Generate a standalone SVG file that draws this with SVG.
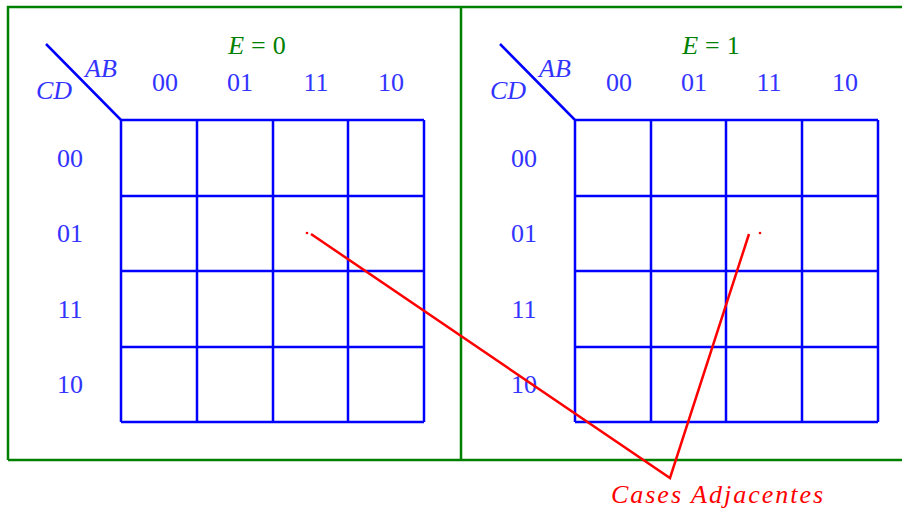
<svg xmlns="http://www.w3.org/2000/svg" width="902" height="512" viewBox="0 0 902 512">
<style>
.frame{fill:none;stroke:#008000;stroke-width:2.5}
.grid{fill:none;stroke:#0000ff;stroke-width:2.5}
.lbl{font-family:"Liberation Serif","DejaVu Serif",serif;font-size:26px;fill:#3333ff;text-anchor:middle}
.it{font-style:italic}
.eq{font-family:"Liberation Serif","DejaVu Serif",serif;font-size:26px;fill:#008000;text-anchor:middle}
.red{fill:none;stroke:#ff0000;stroke-width:2.5}
.note{font-family:"Liberation Serif","DejaVu Serif",serif;font-size:26px;font-style:italic;fill:#ff0000;text-anchor:middle;letter-spacing:2px}
</style>
<rect width="902" height="512" fill="#fff"/>
<g id="frames">
<path class="frame" d="M8,460 V7 H902 M461,7 V460 M8,460 H902"/>
</g>
<g id="map0">
<text class="eq" x="257" y="54"><tspan font-style="italic">E</tspan><tspan dx="7">=</tspan><tspan dx="7">0</tspan></text>
<path class="grid" d="M46,44 L121,120 M121,120 H424 M121,196 H424 M121,271 H424 M121,347 H424 M121,422 H424 M121,120 V422 M197,120 V422 M273,120 V422 M348,120 V422 M424,120 V422"/>
<text class="lbl it" x="101" y="77">AB</text>
<text class="lbl it" x="54" y="99">CD</text>
<text class="lbl" x="165" y="91">00</text>
<text class="lbl" x="240" y="91">01</text>
<text class="lbl" x="316" y="91">11</text>
<text class="lbl" x="391" y="91">10</text>
<text class="lbl" x="70" y="167">00</text>
<text class="lbl" x="70" y="242">01</text>
<text class="lbl" x="70" y="318">11</text>
<text class="lbl" x="70" y="393">10</text>
</g>
<g id="map1">
<text class="eq" x="711" y="54"><tspan font-style="italic">E</tspan><tspan dx="7">=</tspan><tspan dx="7">1</tspan></text>
<path class="grid" d="M500,44 L575,120 M575,120 H878 M575,196 H878 M575,271 H878 M575,347 H878 M575,422 H878 M575,120 V422 M651,120 V422 M726,120 V422 M802,120 V422 M878,120 V422"/>
<text class="lbl it" x="555" y="77">AB</text>
<text class="lbl it" x="508" y="99">CD</text>
<text class="lbl" x="619" y="91">00</text>
<text class="lbl" x="694" y="91">01</text>
<text class="lbl" x="769" y="91">11</text>
<text class="lbl" x="845" y="91">10</text>
<text class="lbl" x="524" y="167">00</text>
<text class="lbl" x="524" y="242">01</text>
<text class="lbl" x="524" y="318">11</text>
<text class="lbl" x="524" y="393">10</text>
</g>
<g id="connectors">
<path class="red" d="M311,234 L670,478 L749,234"/>
<circle cx="307" cy="233" r="1.3" fill="#ff0000"/>
<circle cx="760" cy="233" r="1.3" fill="#ff0000"/>
</g>
<g id="label">
<text class="note" x="718" y="503">Cases Adjacentes</text>
</g>
</svg>
